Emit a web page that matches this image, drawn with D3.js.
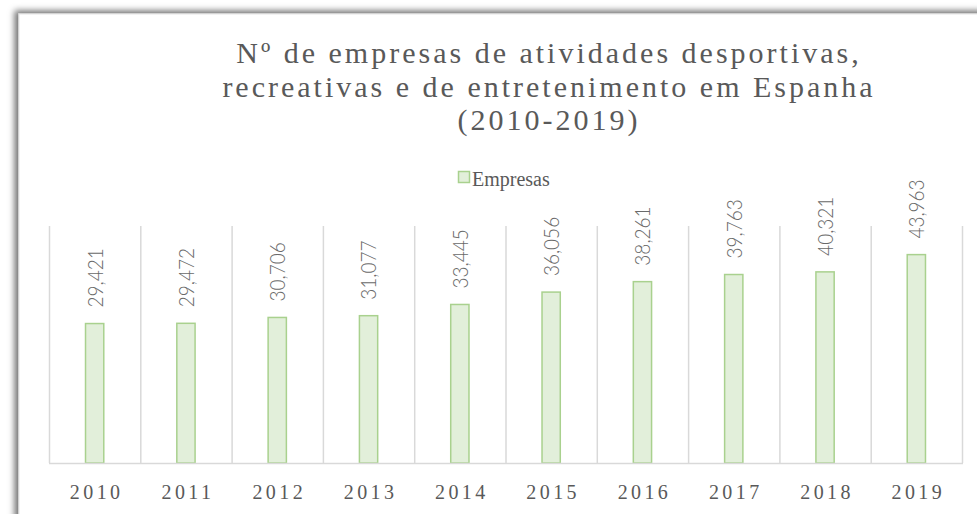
<!DOCTYPE html>
<html>
<head>
<meta charset="utf-8">
<script src="https://cdn.jsdelivr.net/npm/d3@7"></script>
<style>
  html, body { margin: 0; padding: 0; background: #fff; overflow: hidden; }
</style>
</head>
<body>
<div id="chart"></div>
<script>
// Data
const years = ["2010", "2011", "2012", "2013", "2014", "2015", "2016", "2017", "2018", "2019"];
const empresas = [29421, 29472, 30706, 31077, 33445, 36056, 38261, 39763, 40321, 43963];
const titleLines = [
    "Nº de empresas de atividades desportivas,",
    "recreativas e de entretenimento em Espanha",
    "(2010-2019)"
];
const seriesName = "Empresas";

const W = 977, H = 514;
const plot = { left: 49, right: 962, top: 226, bottom: 463 };
const textColor = "#595959";
const barFill = "#e2efda";
const barStroke = "#a9d18e";
const gridColor = "#d9d9d9";

const svg = d3.select("#chart")
    .append("svg")
    .attr("width", W)
    .attr("height", H);

// card shadow
const defs = svg.append("defs");
const f = defs.append("filter")
    .attr("id", "shadow")
    .attr("x", "-10%").attr("y", "-10%")
    .attr("width", "120%").attr("height", "120%");
f.append("feDropShadow")
    .attr("dx", -4).attr("dy", -3)
    .attr("stdDeviation", 3)
    .attr("flood-color", "#000")
    .attr("flood-opacity", 0.55);

svg.append("rect")
    .attr("x", 19).attr("y", 14)
    .attr("width", W + 40).attr("height", H + 40)
    .attr("fill", "#fff")
    .attr("stroke", "#e6e6e6")
    .attr("stroke-width", 1)
    .attr("filter", "url(#shadow)");

// scales
const x = d3.scaleBand()
    .domain(years)
    .range([plot.left, plot.right])
    .padding(0);

const y = d3.scaleLinear()
    .domain([0, 50000])
    .range([plot.bottom, plot.top]);

const barW = x.bandwidth() * 0.2;

// vertical gridlines at category boundaries
const boundaries = years.map(d => x(d)).concat([x(years[years.length - 1]) + x.bandwidth()]);
svg.append("g")
    .selectAll("line")
    .data(boundaries)
    .enter()
    .append("line")
    .attr("x1", d => d + 0.5)
    .attr("x2", d => d + 0.5)
    .attr("y1", y(50000))
    .attr("y2", y(0))
    .attr("stroke", gridColor)
    .attr("stroke-width", 1.5);

// bars
svg.append("g")
    .selectAll("rect")
    .data(empresas)
    .enter()
    .append("rect")
    .attr("x", (d, i) => x(years[i]) + (x.bandwidth() - barW) / 2)
    .attr("y", d => y(d))
    .attr("width", barW)
    .attr("height", d => y(0) - y(d))
    .attr("fill", barFill)
    .attr("stroke", barStroke)
    .attr("stroke-width", 1.5);

// baseline
svg.append("line")
    .attr("x1", plot.left)
    .attr("x2", plot.right + 1)
    .attr("y1", y(0) + 0.5)
    .attr("y2", y(0) + 0.5)
    .attr("stroke", gridColor)
    .attr("stroke-width", 1.5);

// rotated value labels
const labelSize = 19;
svg.append("g")
    .selectAll("text")
    .data(empresas)
    .enter()
    .append("text")
    .attr("transform", (d, i) => {
        const cx = x(years[i]) + x.bandwidth() / 2 + 0.36 * labelSize * 1.15;
        return `translate(${cx},${y(d) - 16}) rotate(-90) scale(1,1.15)`;
    })
    .attr("text-anchor", "start")
    .attr("font-family", "Lato, 'Liberation Sans', Arial, sans-serif")
    .attr("font-weight", 300)
    .attr("font-size", labelSize)
    .attr("fill", "#6a6a6a")
    .text(d => d3.format(",")(d));

// year labels
svg.append("g")
    .selectAll("text")
    .data(years)
    .enter()
    .append("text")
    .attr("x", d => x(d) + x.bandwidth() / 2 + 2)
    .attr("y", 499)
    .attr("text-anchor", "middle")
    .attr("font-family", "'Liberation Serif', 'Times New Roman', serif")
    .attr("font-size", 20)
    .attr("letter-spacing", "3.4px")
    .attr("fill", textColor)
    .text(d => d);

// title
svg.append("g")
    .selectAll("text")
    .data(titleLines)
    .enter()
    .append("text")
    .attr("x", 549)
    .attr("y", (d, i) => 63 + i * 33.5)
    .attr("text-anchor", "middle")
    .attr("font-family", "'Liberation Serif', 'Times New Roman', serif")
    .attr("font-size", 30)
    .attr("letter-spacing", "3px")
    .attr("fill", textColor)
    .text(d => d);

// legend
const legend = svg.append("g").attr("transform", "translate(458,171)");
legend.append("rect")
    .attr("x", 0.5).attr("y", 0.5)
    .attr("width", 11).attr("height", 11)
    .attr("fill", barFill)
    .attr("stroke", barStroke)
    .attr("stroke-width", 1.5);
legend.append("text")
    .attr("x", 14)
    .attr("y", 15)
    .attr("font-family", "'Liberation Serif', 'Times New Roman', serif")
    .attr("font-size", 20)
    .attr("fill", textColor)
    .text(seriesName);
</script>
</body>
</html>
